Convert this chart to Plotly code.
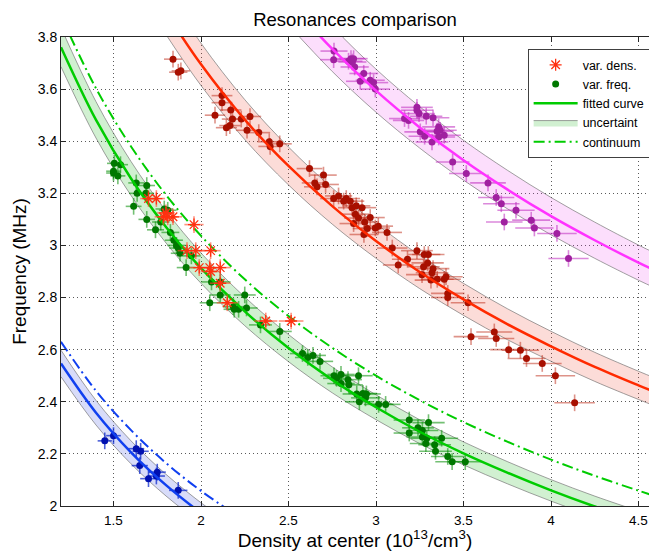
import plotly.graph_objects as go

# ---------------- text ----------------
title_text = "Resonances comparison"
x_title = "Density at center (10<sup>13</sup>/cm<sup>3</sup>)"
y_title = "Frequency (MHz)"

x_tickvals = [1.5, 2, 2.5, 3, 3.5, 4, 4.5]
x_ticktext = ["1.5", "2", "2.5", "3", "3.5", "4", "4.5"]
y_tickvals = [2, 2.2, 2.4, 2.6, 2.8, 3, 3.2, 3.4, 3.6, 3.8]
y_ticktext = ["2", "2.2", "2.4", "2.6", "2.8", "3", "3.2", "3.4", "3.6", "3.8"]

legend_names = ["var. dens.", "var. freq.", "fitted curve", "uncertaint", "continuum"]

# ---------------- measured resonances ----------------
blue_x = [1.45, 1.50, 1.63, 1.655, 1.65, 1.70, 1.75, 1.745, 1.87]
blue_y = [2.25, 2.27, 2.22, 2.21, 2.155, 2.105, 2.13, 2.115, 2.06]

green_x = [1.505, 1.54, 1.50, 1.50, 1.525, 1.63, 1.69, 1.635, 1.685, 1.615,
           1.69, 1.74, 1.77, 1.81, 1.79, 1.825, 1.845, 1.86, 1.87, 1.88,
           1.915, 1.945, 2.05, 2.06, 2.11, 2.11, 2.185, 2.19, 2.215, 2.25,
           2.26, 2.34, 2.45, 2.58, 2.61, 2.64, 2.68, 2.76, 2.775, 2.80,
           2.80, 2.84, 2.845, 2.90, 2.89, 2.905, 2.925, 2.945, 2.94, 3.015,
           3.055, 3.19, 3.19, 3.24, 3.265, 3.30, 3.265, 3.29, 3.285, 3.335,
           3.34, 3.375, 3.41, 3.435, 3.51]
green_y = [3.315, 3.31, 3.285, 3.278, 3.267, 3.24, 3.23, 3.20, 3.20, 3.15,
           3.10, 3.06, 3.09, 3.135, 3.14, 3.05, 3.02, 3.00, 2.99, 2.97,
           2.915, 2.96, 2.78, 2.86, 2.86, 2.81, 2.765, 2.755, 2.755, 2.81,
           2.76, 2.695, 2.67, 2.585, 2.57, 2.578, 2.555, 2.50, 2.49, 2.505,
           2.47, 2.485, 2.465, 2.50, 2.43, 2.40, 2.432, 2.43, 2.415, 2.39,
           2.39, 2.33, 2.28, 2.30, 2.29, 2.32, 2.265, 2.26, 2.24, 2.235,
           2.21, 2.26, 2.19, 2.17, 2.17]

dens_x = [1.70, 1.745, 1.785, 1.80, 1.81, 1.84, 1.96, 1.92, 1.97, 2.055,
          1.99, 2.05, 2.055, 2.11, 2.11, 2.15, 2.37, 2.515]
dens_y = [3.18, 3.18, 3.11, 3.125, 3.11, 3.11, 3.08, 2.98, 2.98, 2.98,
          2.915, 2.915, 2.90, 2.915, 2.855, 2.78, 2.71, 2.71]

red_x = [1.84, 1.87, 1.885, 2.12, 2.12, 2.08, 2.17, 2.18, 2.23, 2.28,
         2.145, 2.165, 2.263, 2.33, 2.39, 2.395, 2.45, 2.62, 2.70, 2.65,
         2.663, 2.712, 2.758, 2.786, 2.815, 2.83, 2.853, 2.863, 2.887, 2.92,
         2.882, 2.90, 2.935, 2.967, 2.872, 2.95, 2.996, 3.013, 2.931, 3.063,
         3.093, 3.127, 3.18, 3.234, 3.276, 3.299, 3.272, 3.295, 3.263, 3.32,
         3.326, 3.314, 3.35, 3.39, 3.40, 3.41, 3.41, 3.526, 3.543, 3.676,
         3.687, 3.758, 3.825, 3.86, 3.95, 4.025, 4.135]
red_y = [3.715, 3.665, 3.67, 3.575, 3.548, 3.50, 3.52, 3.485, 3.485, 3.495,
         3.452, 3.46, 3.442, 3.433, 3.398, 3.38, 3.39, 3.295, 3.27, 3.24,
         3.225, 3.234, 3.18, 3.19, 3.17, 3.18, 3.17, 3.145, 3.152, 3.145,
         3.12, 3.105, 3.09, 3.107, 3.084, 3.065, 3.067, 3.074, 3.042, 3.05,
         2.99, 2.925, 2.947, 2.98, 2.965, 2.965, 2.918, 2.933, 2.888, 2.895,
         2.911, 2.867, 2.87, 2.87, 2.88, 2.816, 2.80, 2.78, 2.65, 2.668,
         2.643, 2.60, 2.598, 2.566, 2.547, 2.50, 2.396]

magenta_x = [2.76, 2.758, 2.843, 2.857, 2.872, 2.865, 2.878, 2.93, 2.91, 2.967,
             2.986, 2.996, 3.234, 3.234, 3.246, 3.163, 3.186, 3.287, 3.326, 3.358,
             3.367, 3.349, 3.39, 3.358, 3.253, 3.278, 3.32, 3.438, 3.516, 3.64,
             3.687, 3.716, 3.80, 3.733, 3.887, 3.905, 4.034, 4.10]
magenta_y = [3.746, 3.713, 3.707, 3.717, 3.717, 3.704, 3.685, 3.66, 3.63, 3.634,
             3.625, 3.60, 3.53, 3.519, 3.506, 3.487, 3.48, 3.496, 3.49, 3.455,
             3.442, 3.438, 3.423, 3.416, 3.436, 3.419, 3.397, 3.32, 3.276, 3.24,
             3.184, 3.16, 3.135, 3.09, 3.097, 3.067, 3.046, 2.95]

# ---------------- fitted curves ----------------
blue_fit_x = [1.2, 1.4, 1.6, 1.8, 2.0, 2.1]
blue_fit_y = [2.547, 2.358, 2.206, 2.080, 1.973, 1.925]
blue_cont_x = [1.2, 1.4, 1.6, 1.8, 2.0, 2.2]
blue_cont_y = [2.630, 2.442, 2.291, 2.165, 2.058, 1.966]

green_fit_x = [1.2, 1.4, 1.6, 1.8, 2.0, 2.25, 2.5, 2.75, 3.0, 3.25, 3.5, 3.75, 4.0, 4.25, 4.5, 4.6]
green_fit_y = [3.761, 3.482, 3.257, 3.071, 2.913, 2.747, 2.606, 2.484, 2.379, 2.285,
               2.202, 2.128, 2.060, 1.998, 1.942, 1.921]
green_cont_x = [1.2, 1.4, 1.6, 1.8, 2.0, 2.25, 2.5, 2.75, 3.0, 3.25, 3.5, 3.75, 4.0, 4.25, 4.5, 4.6]
green_cont_y = [3.880, 3.603, 3.380, 3.194, 3.037, 2.870, 2.729, 2.607, 2.500, 2.406,
                2.322, 2.247, 2.178, 2.116, 2.059, 2.037]

red_fit_x = [1.8, 2.0, 2.25, 2.5, 2.75, 3.0, 3.25, 3.5, 3.75, 4.0, 4.25, 4.5, 4.6]
red_fit_y = [3.895, 3.695, 3.483, 3.305, 3.151, 3.017, 2.898, 2.793, 2.698, 2.613,
             2.534, 2.463, 2.436]

magenta_fit_x = [2.5, 2.75, 3.0, 3.25, 3.5, 3.75, 4.0, 4.25, 4.5, 4.6]
magenta_fit_y = [3.937, 3.754, 3.594, 3.453, 3.327, 3.215, 3.1125, 3.020, 2.934, 2.902]

# relative half-width of each uncertainty band
blue_band = 0.020
green_band = 0.020
red_band = 0.022
magenta_band = 0.023

# ---------------- styles ----------------
FONT = "Liberation Sans, Arial, Helvetica, sans-serif"
EDGE = "rgba(110,110,110,0.65)"
CONT_DASH = "11px,4px,2px,4px"

fig = go.Figure()


def add_band(xs, ys, frac, fill, legend=False, rank=1000):
    lower = [v * (1 - frac) for v in ys]
    upper = [v * (1 + frac) for v in ys]
    fig.add_trace(go.Scatter(x=xs, y=lower, mode="lines", line=dict(color=EDGE, width=1, shape="spline"),
                             showlegend=False, hoverinfo="skip"))
    fig.add_trace(go.Scatter(x=xs, y=upper, mode="lines", line=dict(color=EDGE, width=1, shape="spline"),
                             fill="tonexty", fillcolor=fill, showlegend=legend,
                             name=legend_names[3], legendrank=rank, hoverinfo="skip"))


add_band(blue_fit_x, blue_fit_y, blue_band, "rgba(40,60,220,0.18)")
add_band(green_fit_x, green_fit_y, green_band, "rgba(0,170,0,0.18)", legend=True, rank=4)
add_band(red_fit_x, red_fit_y, red_band, "rgba(240,60,40,0.18)")
add_band(magenta_fit_x, magenta_fit_y, magenta_band, "rgba(240,60,240,0.17)")

# continuum curves
fig.add_trace(go.Scatter(x=blue_cont_x, y=blue_cont_y, mode="lines",
                         line=dict(color="#1040f0", width=2, dash=CONT_DASH, shape="spline"),
                         showlegend=False))
fig.add_trace(go.Scatter(x=green_cont_x, y=green_cont_y, mode="lines",
                         line=dict(color="#00cc00", width=2, dash=CONT_DASH, shape="spline"),
                         name=legend_names[4], legendrank=5))


def add_points(xs, ys, color, ecolor, legend=False, name="", rank=1000, star=False):
    if star:
        marker = dict(symbol="asterisk-open", size=10, color=color, line=dict(color=color, width=1.3))
    else:
        marker = dict(symbol="circle", size=7, color=color, line=dict(width=0))
    fig.add_trace(go.Scatter(
        x=xs, y=ys, mode="markers", marker=marker,
        error_x=dict(type="percent", value=2.8, color=ecolor, thickness=1.6, width=0),
        error_y=dict(type="constant", value=0.032, color=ecolor, thickness=1.6, width=0),
        showlegend=legend, name=name, legendrank=rank))


add_points(green_x, green_y, "#007800", "rgba(0,140,0,0.55)", legend=True, name=legend_names[1], rank=2)
add_points(red_x, red_y, "#a81000", "rgba(190,40,20,0.5)")
add_points(magenta_x, magenta_y, "#a020a0", "rgba(190,40,190,0.55)")
add_points(blue_x, blue_y, "#0010b0", "rgba(0,30,200,0.7)")

# fitted curves
fig.add_trace(go.Scatter(x=blue_fit_x, y=blue_fit_y, mode="lines",
                         line=dict(color="#1040f0", width=2.5, shape="spline"), showlegend=False))
fig.add_trace(go.Scatter(x=green_fit_x, y=green_fit_y, mode="lines",
                         line=dict(color="#00cc00", width=2.5, shape="spline"),
                         name=legend_names[2], legendrank=3))
fig.add_trace(go.Scatter(x=red_fit_x, y=red_fit_y, mode="lines",
                         line=dict(color="#ff2a00", width=2.5, shape="spline"), showlegend=False))
fig.add_trace(go.Scatter(x=magenta_fit_x, y=magenta_fit_y, mode="lines",
                         line=dict(color="#ff33ff", width=2.5, shape="spline"), showlegend=False))

add_points(dens_x, dens_y, "#ff3010", "rgba(255,70,40,0.6)", legend=True, name=legend_names[0], rank=1, star=True)

fig.update_layout(
    width=649, height=551,
    margin=dict(l=61, r=0, t=37, b=45, autoexpand=False),
    paper_bgcolor="white", plot_bgcolor="white",
    font=dict(family=FONT, color="black", size=14),
    title=dict(text=title_text, x=0.5, xref="paper", xanchor="center",
               y=1 - 20 / 551, yref="container", yanchor="middle",
               font=dict(size=18.5, family=FONT, color="black")),
    showlegend=True,
    legend=dict(x=0.7936, y=0.974, xanchor="left", yanchor="top", traceorder="normal",
                bgcolor="white", bordercolor="#404040", borderwidth=1,
                font=dict(size=12.5, family=FONT), itemwidth=44, tracegroupgap=0),
)
fig.update_xaxes(range=[1.2, 4.56], tickvals=x_tickvals, ticktext=x_ticktext,
                 showgrid=True, gridcolor="#5a5a5a", griddash="1px,3px", gridwidth=1,
                 showline=True, linecolor="#262626", linewidth=1, mirror="ticks",
                 ticks="inside", ticklen=5, tickcolor="#262626", zeroline=False,
                 tickfont=dict(size=13.5), automargin=False, ticklabelstandoff=2,
                 ticklabeloverflow="allow",
                 title=dict(text=x_title, font=dict(size=19), standoff=8))
fig.update_yaxes(range=[2, 3.8], tickvals=y_tickvals, ticktext=y_ticktext,
                 showgrid=True, gridcolor="#5a5a5a", griddash="1px,3px", gridwidth=1,
                 showline=True, linecolor="#262626", linewidth=1, mirror=False,
                 ticks="inside", ticklen=5, tickcolor="#262626", zeroline=False,
                 tickfont=dict(size=14), automargin=False,
                 title=dict(text=y_title, font=dict(size=19), standoff=6))

fig.write_html("out.html", config={"displayModeBar": False},
               post_script="document.body.style.margin='0';document.body.style.overflow='hidden';")
